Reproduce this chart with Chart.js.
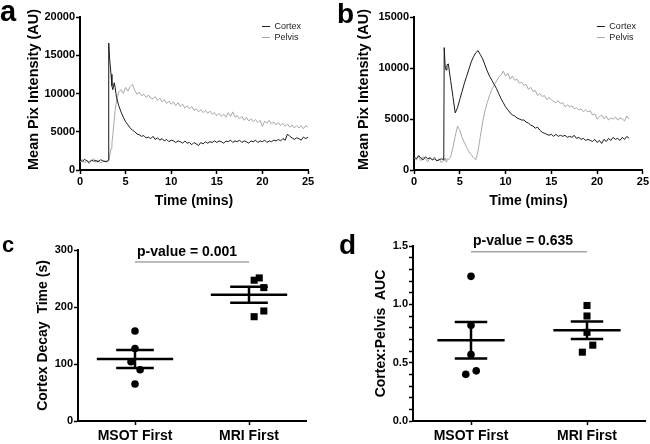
<!DOCTYPE html>
<html>
<head>
<meta charset="utf-8">
<script src="https://cdn.jsdelivr.net/npm/chart.js@4.4.1/dist/chart.umd.min.js"></script>
<style>
  html, body { margin: 0; padding: 0; background: #fff; }
  body { width: 650px; height: 444px; position: relative; overflow: hidden; font-family: "Liberation Sans", Arial, sans-serif; }
  .panel { position: absolute; }
  .letter { position: absolute; font-weight: bold; color: #000; line-height: 1; }
</style>
</head>
<body>
<div class="panel" style="left:0;top:0;width:325px;height:210px"><canvas id="chartA"></canvas></div>
<div class="panel" style="left:325px;top:0;width:325px;height:210px"><canvas id="chartB"></canvas></div>
<div class="panel" style="left:0;top:210px;width:325px;height:234px"><canvas id="chartC"></canvas></div>
<div class="panel" style="left:325px;top:210px;width:325px;height:234px"><canvas id="chartD"></canvas></div>
<div class="letter" style="left:0px;top:-3px;font-size:29px">a</div>
<div class="letter" style="left:337px;top:0px;font-size:28px">b</div>
<div class="letter" style="left:2px;top:234px;font-size:22px">c</div>
<div class="letter" style="left:339px;top:231px;font-size:28px">d</div>
<script>
// ---- panel a: time curves (mins, AU)
const timesA = [0,0.25,0.5,0.75, 1,1.25,1.5,1.75, 2,2.25,2.5,2.75, 3,
  3.1,3.15,3.25,3.4,3.5,3.6,3.75,3.85,
  4,4.25,4.5,4.75, 5,5.25,5.5,5.75, 6,6.25,6.5,6.75, 7,7.25,7.5,7.75,
  8,8.25,8.5,8.75, 9,9.25,9.5,9.75, 10,10.25,10.5,10.75, 11,11.25,11.5,11.75,
  12,12.25,12.5,12.75, 13,13.25,13.5,13.75, 14,14.25,14.5,14.75, 15,15.25,15.5,15.75,
  16,16.25,16.5,16.75, 17,17.25,17.5,17.75, 18,18.25,18.5,18.75, 19,19.25,19.5,19.75,
  20,20.25,20.5,20.75, 21,21.25,21.5,21.75, 22,22.25,22.5,22.75, 23,23.25,23.5,23.75,
  24,24.25,24.5,24.75, 25];
const cortexA = [1300,1100,1400,1200, 1000,1300,1150,1250, 1050,1350,1200,1100, 1150,
  1300,16600,14500,12500,11000,10500,11400,10800,
  9500,8400,7600,6900, 6300,5900,5500,5200, 5000,4700,4600,4400, 4500,4200,4300,4100,
  4400,4000,4200,3900, 4100,3800,4000,3700, 3900,3800,3600,3800, 3700,3500,3800,3500,
  3600,3300,3600,3400, 3200,3600,3400,3700, 3500,3700,3600,3800, 3600,3800,3700,3500,
  3800,3700,3900,3600, 3800,3700,3900,3600, 3800,3700,3500,3800, 3700,3900,3600,3800,
  3700,3900,3600,3800, 3700,3900,3800,4000, 3800,4100,3900,4700, 4400,4200,4000,4200,
  4100,3900,4300,4100, 4300];
const pelvisA = [1000,1400,900,1300, 800,1200,1500,1000, 1300,900,1100,1200, 1000,
  1200,1300,1800,2800,3500,4600,6500,7800,
  9000,10200,10500,10000, 10800,10300,10900,11200, 10400,9900,10200,9700, 9900,9500,9800,9400,
  9300,9600,9100,9400, 8900,9200,8700,9000, 8600,8900,8400,8800, 8300,8600,8100,8400,
  8000,8300,7800,8000, 7600,7900,7500,7800, 7400,7700,7300,7500, 7100,7400,7000,7300,
  6900,7500,7000,7600, 6900,7100,6700,7000, 6500,6900,6400,6700, 6300,6600,6200,6500,
  5700,6400,6100,6500, 6000,6300,5900,6200, 5800,6100,5700,6000, 5600,5900,5500,5800,
  5500,5800,5400,5800, 5600];

// ---- panel b
const timesB = [0,0.25,0.5,0.75, 1,1.25,1.5,1.75, 2,2.25,2.5,2.75, 3,3.25,
  3.3,3.4,3.5,3.6,3.75,
  4,4.25,4.5,4.75, 5,5.25,5.5,5.75, 6,6.25,6.5,6.75, 7,7.25,7.5,7.75,
  8,8.25,8.5,8.75, 9,9.25,9.5,9.75, 10,10.25,10.5,10.75, 11,11.25,11.5,11.75,
  12,12.25,12.5,12.75, 13,13.25,13.5,13.75, 14,14.25,14.5,14.75, 15,15.25,15.5,15.75,
  16,16.25,16.5,16.75, 17,17.25,17.5,17.75, 18,18.25,18.5,18.75, 19,19.25,19.5,19.75,
  20,20.25,20.5,20.75, 21,21.25,21.5,21.75, 22,22.25,22.5,22.75, 23,23.25,23.5];
const cortexB = [1300,1100,1400,1200, 1000,1300,1100,1200, 1000,1100,900,1000, 1100,1000,
  12000,10200,9800,10300,10400,
  8800,7200,5600,6100, 6900,7700,8500,9200, 9900,10600,11100,11500, 11700,11300,10900,10300,
  9700,9200,8800,8400, 8000,7500,7000,6600, 6200,5900,5600,5400, 5300,5100,5000,4900,
  4900,4700,4600,4400, 4300,4100,4200,3900, 3700,3600,3500,3400, 3500,3300,3500,3300,
  3400,3300,3400,3200, 3300,3200,3400,3100, 3200,3000,3100,2900, 3000,2900,2800,3000,
  2700,2900,2600,3000, 2800,3100,2900,3200, 3000,3100,2900,3200, 3000,3300,3100];
const pelvisB = [1200,1000,1400,900, 1300,1100,800,1200, 1000,1300,900,1100, 700,1000,
  900,1200,800,1100,1000,
  1300,2200,3300,4300, 3900,3200,2700,2200, 1800,1500,1200,1000, 1900,3300,4700,5800,
  6600,7300,7900,8300, 8700,9100,9300,9700, 9200,9500,8900,9200, 8800,8900,8500,8600,
  8300,8400,7900,8100, 7700,7800,7300,7500, 7200,7300,6900,7100, 6900,6700,6600,6800,
  6500,6600,6200,6400, 6200,6300,6000,6100, 5900,6000,5700,5900, 5700,5800,5400,5500,
  5000,5200,5400,5000, 5300,4900,5100,5000, 5200,4900,5100,5000, 4800,5300,5000];

// ---- panels c, d: individual animals
const groups = ['MSOT First', 'MRI First'];
const decayMsot = [158, 127, 104, 90, 65];
const decayMri = [251, 247, 234, 193, 183];
const aucMsot = [1.24, 0.82, 0.57, 0.40, 0.43];
const aucMri = [0.99, 0.90, 0.76, 0.65, 0.59];
const pTextDecay = 'p-value = 0.001';
const pTextAuc = 'p-value = 0.635';

const FONT = "'Liberation Sans', Arial, sans-serif";
const BLACK = '#000';
const GREY = '#a8a8a8';

// horizontal scatter of the dots inside each group
const jitterDecay = [[0, 0, -0.035, 0.045, 0], [0.09, 0.045, 0.13, 0.13, 0.045]];
const jitterAuc = [[0, 0, 0, -0.045, 0.045], [0, 0, 0, 0.05, -0.04]];

function meanSem(vals) {
  const n = vals.length;
  const mean = vals.reduce((a, b) => a + b, 0) / n;
  const sd = Math.sqrt(vals.reduce((a, b) => a + (b - mean) * (b - mean), 0) / (n - 1));
  return { mean, sem: sd / Math.sqrt(n) };
}

function xy(xs, ys) {
  return xs.map((x, i) => ({ x: x, y: ys[i] }));
}

// moves the legend into the top-right corner of the plot
const cornerLegend = {
  id: 'cornerLegend',
  afterLayout(chart, args, opts) {
    const lg = chart.legend;
    if (!lg || !lg.options.display) return;
    const w = lg.width;
    lg.left = chart.chartArea.right - opts.right - w;
    lg.right = lg.left + w;
    lg.top = chart.chartArea.top + opts.top;
    lg.bottom = lg.top + lg.height;
  }
};

// p-value label above the bracket line
const pNote = {
  id: 'pNote',
  afterDraw(chart, args, opts) {
    if (!opts.text) return;
    const { ctx, scales } = chart;
    ctx.save();
    ctx.font = 'bold 14px ' + FONT;
    ctx.fillStyle = BLACK;
    ctx.textAlign = 'left';
    ctx.textBaseline = 'middle';
    ctx.fillText(opts.text, scales.x.getPixelForValue(0) + 2, scales.y.getPixelForValue(opts.y) - opts.lift);
    ctx.restore();
  }
};

function tickFont(size) {
  return { family: FONT, size: size, weight: 'bold' };
}

function yAxis(max, step, title, width, titlePad, titleSize, titleAlign, labelFn) {
  return {
    min: 0, max: max,
    ticks: { stepSize: step, autoSkip: false, color: BLACK, font: tickFont(11), padding: 1, callback: labelFn },
    grid: { drawOnChartArea: false, tickLength: 4, tickColor: BLACK, tickWidth: 1.5 },
    border: { color: BLACK, width: 2 },
    title: { display: true, text: title, align: titleAlign, color: BLACK, font: tickFont(titleSize), padding: { top: titlePad, bottom: 0 } },
    afterFit: s => { s.width = width; }
  };
}

function timeChart(id, times, cortex, pelvis, yMax, yWidth, titlePad, padRight) {
  return new Chart(document.getElementById(id), {
    type: 'scatter',
    data: {
      datasets: [
        { label: 'Cortex', data: xy(times, cortex), showLine: true, borderColor: '#1a1a1a', backgroundColor: '#1a1a1a', borderWidth: 1, pointRadius: 0 },
        { label: 'Pelvis', data: xy(times, pelvis), showLine: true, borderColor: GREY, backgroundColor: GREY, borderWidth: 1, pointRadius: 0 }
      ]
    },
    options: {
      animation: false,
      responsive: true,
      maintainAspectRatio: false,
      layout: { padding: { top: 17, right: padRight, left: 0, bottom: 0 } },
      scales: {
        x: {
          type: 'linear', min: 0, max: 25,
          ticks: { stepSize: 5, color: BLACK, font: tickFont(11), padding: 1, maxRotation: 0 },
          grid: { drawOnChartArea: false, tickLength: 4, tickColor: BLACK, tickWidth: 1.5 },
          border: { color: BLACK, width: 2 },
          title: { display: true, text: 'Time (mins)', color: BLACK, font: tickFont(14), padding: 0 },
          afterFit: s => { s.height = 40; }
        },
        y: yAxis(yMax, 5000, 'Mean Pix Intensity (AU)', yWidth, titlePad, 14.5, 'start')
      },
      plugins: {
        tooltip: { enabled: false },
        legend: {
          position: 'chartArea',
          align: 'start',
          labels: {
            usePointStyle: true, pointStyle: 'line', pointStyleWidth: 8,
            color: '#222', font: { family: FONT, size: 9 }, padding: 2
          }
        },
        cornerLegend: { right: -3, top: 3 }
      }
    },
    plugins: [cornerLegend]
  });
}

function dotDatasets(msot, mri, jit, pY, meanHalf, semHalf) {
  const sets = [];
  [msot, mri].forEach((vals, g) => {
    sets.push({
      data: vals.map((v, i) => ({ x: g + jit[g][i], y: v })),
      pointStyle: g ? 'rect' : 'circle', pointRadius: g ? 5 : 3.8,
      backgroundColor: BLACK, borderColor: BLACK, borderWidth: 0
    });
    const st = meanSem(vals);
    const seg = pts => ({ data: pts, showLine: true, borderColor: BLACK, borderWidth: 2.5, pointRadius: 0 });
    sets.push(seg([{ x: g - meanHalf, y: st.mean }, { x: g + meanHalf, y: st.mean }]));
    sets.push(seg([{ x: g - semHalf, y: st.mean + st.sem }, { x: g + semHalf, y: st.mean + st.sem }]));
    sets.push(seg([{ x: g - semHalf, y: st.mean - st.sem }, { x: g + semHalf, y: st.mean - st.sem }]));
    sets.push(seg([{ x: g, y: st.mean - st.sem }, { x: g, y: st.mean + st.sem }]));
  });
  sets.push({ data: [{ x: 0, y: pY }, { x: 1, y: pY }], showLine: true, borderColor: '#777', borderWidth: 1, pointRadius: 0 });
  return sets;
}

function dotChart(id, datasets, yAxisCfg, padTop, padRight, note) {
  return new Chart(document.getElementById(id), {
    type: 'scatter',
    data: { datasets: datasets },
    options: {
      animation: false,
      responsive: true,
      maintainAspectRatio: false,
      layout: { padding: { top: padTop, right: padRight, left: 0, bottom: 0 } },
      scales: {
        x: {
          type: 'linear', min: -0.5, max: 1.5,
          afterBuildTicks: s => { s.ticks = [{ value: 0 }, { value: 1 }]; },
          ticks: { autoSkip: false, maxRotation: 0, color: BLACK, font: tickFont(14), padding: 3, callback: v => groups[v] },
          grid: { drawOnChartArea: false, tickLength: 4, tickColor: BLACK, tickWidth: 1.5 },
          border: { color: BLACK, width: 2 },
          afterFit: s => { s.height = 23; }
        },
        y: yAxisCfg
      },
      clip: false,
      plugins: {
        tooltip: { enabled: false },
        legend: { display: false },
        pNote: note
      }
    },
    plugins: [pNote]
  });
}

timeChart('chartA', timesA, cortexA, pelvisA, 20000, 80, 25, 17);
timeChart('chartB', timesB, cortexB, pelvisB, 15000, 89, 30, 7);

dotChart('chartC', dotDatasets(decayMsot, decayMri, jitterDecay, 279, 0.335, 0.165),
  yAxis(300, 100, 'Cortex Decay  Time (s)', 78, 35, 14, 'center', v => v),
  40, 19, { text: pTextDecay, y: 279, lift: 10 });

dotChart('chartD', dotDatasets(aucMsot, aucMri, jitterAuc, 1.45, 0.29, 0.14),
  yAxis(1.5, 0.1, 'Cortex:Pelvis  AUC', 88, 48, 14, 'center',
    v => Math.abs(v * 2 - Math.round(v * 2)) < 1e-6 ? v.toFixed(1) : ''),
  36, 2, { text: pTextAuc, y: 1.45, lift: 11 });
</script>
</body>
</html>
